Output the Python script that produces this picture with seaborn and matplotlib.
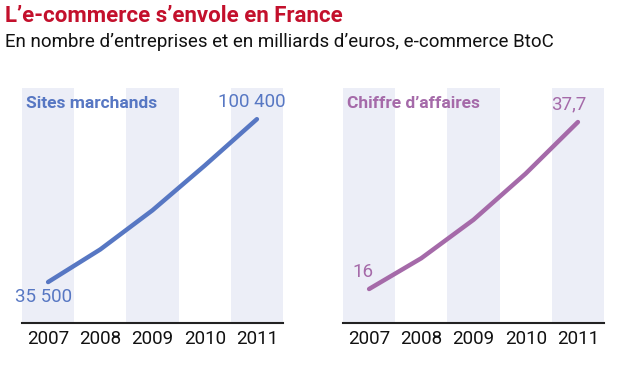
import pandas as pd
import numpy as np
import matplotlib.pyplot as plt
import seaborn as sns

years = ["2007", "2008", "2009", "2010", "2011"]
sites = [35500, 48500, 64100, 81900, 100400]
ca = [16, 20, 25, 31, 37.7]
site_labels = ["35 500", "100 400"]
ca_labels = ["16", "37,7"]

RED = "#c3102c"
BLUE = "#5777c3"
PURPLE = "#a56aa9"
BAND = "#eceef7"

sns.set_style("white")
plt.rcParams['font.family'] = ['Roboto', 'DejaVu Sans']

fig = plt.figure(figsize=(6.25, 3.92), dpi=100)
ax1 = fig.add_axes([0.0352, 0.176, 0.4176, 0.599])
ax2 = fig.add_axes([0.5488, 0.176, 0.4176, 0.599])

fig.text(0.008, 0.988, "L\u2019e-commerce s\u2019envole en France", color=RED,
         fontsize=16, fontweight="bold", va="top")
fig.text(0.008, 0.915, "En nombre d\u2019entreprises et en milliards d\u2019euros, e-commerce BtoC",
         color="#111111", fontsize=13.5, va="top")


def draw_panel(ax, values, labels, color, title, ylim, first_off, last_off):
    df = pd.DataFrame({"x": np.arange(len(years)), "y": values})
    for i in range(0, len(years), 2):
        ax.axvspan(i - 0.5, i + 0.5, color=BAND, lw=0, zorder=0)
    sns.lineplot(data=df, x="x", y="y", ax=ax, color=color, lw=3.2,
                 solid_capstyle="round", zorder=3)
    ax.set_xlim(-0.5, len(years) - 0.5)
    ax.set_ylim(*ylim)
    ax.set_xticks(np.arange(-0.5, len(years)), [""] * (len(years) + 1))
    ax.set_xticks(np.arange(len(years)), years, minor=True)
    ax.tick_params(axis="x", which="major", direction="in", length=5, width=1.5, color="#222222")
    ax.tick_params(axis="x", which="minor", length=0, labelsize=13.5, pad=5, labelcolor="#111111")
    ax.set_yticks([])
    ax.set_xlabel("")
    ax.set_ylabel("")
    for s in ["top", "left", "right"]:
        ax.spines[s].set_visible(False)
    ax.spines["bottom"].set_color("#222222")
    ax.spines["bottom"].set_linewidth(1.5)
    ax.text(0.015, 0.965, title, transform=ax.transAxes, color=color,
            fontsize=12.5, fontweight="bold", va="top")
    ax.annotate(labels[0], (0, values[0]), xytext=first_off, textcoords="offset points",
                ha="center", va="center", color=color, fontsize=13.5)
    ax.annotate(labels[1], (len(years) - 1, values[-1]), xytext=last_off, textcoords="offset points",
                ha="center", va="center", color=color, fontsize=13.5)


draw_panel(ax1, sites, site_labels, BLUE, "Sites marchands", (19180, 112738), (-3, -11), (-4, 12))
draw_panel(ax2, ca, ca_labels, PURPLE, "Chiffre d\u2019affaires", (11.58, 42.1), (-4.5, 12), (-6.5, 13))

fig.savefig("out.png", dpi=100)
